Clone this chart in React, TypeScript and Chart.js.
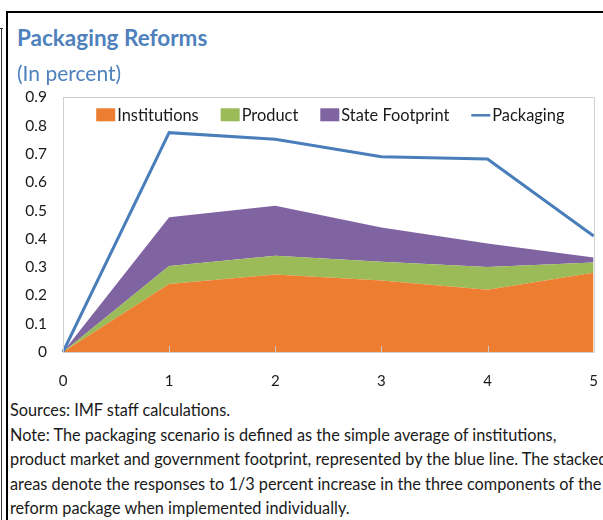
import React, { useEffect, useRef } from "react";
import { Chart, registerables } from "chart.js";

Chart.register(...registerables);

const years = ["0", "1", "2", "3", "4", "5"];
const institutions = [0, 0.24, 0.274, 0.253, 0.22, 0.28];
const product = [0, 0.064, 0.066, 0.066, 0.08, 0.036];
const stateFootprint = [0, 0.172, 0.177, 0.121, 0.083, 0.018];
const packaging = [0, 0.775, 0.752, 0.69, 0.682, 0.41];

const FONT = "Lato, 'Noto Sans', sans-serif";

const frameAndTicks = {
  id: "frameAndTicks",
  afterDatasetsDraw(chart: any) {
    const { ctx, chartArea } = chart;
    const xs = chart.scales.x;
    ctx.save();
    ctx.strokeStyle = "#c8c8c8";
    ctx.lineWidth = 1;
    ctx.beginPath();
    for (let i = 1; i < years.length; i++) {
      const px = Math.round(xs.getPixelForValue(i)) + 0.5;
      ctx.moveTo(px, chartArea.bottom);
      ctx.lineTo(px, chartArea.bottom - 6);
    }
    ctx.stroke();
    ctx.beginPath();
    ctx.strokeStyle = "#d0d0d0";
    ctx.rect(
      Math.round(chartArea.left) + 0.5,
      Math.round(chartArea.top) + 0.5,
      Math.round(chartArea.right - chartArea.left),
      Math.round(chartArea.bottom - chartArea.top)
    );
    ctx.stroke();
    ctx.restore();
  },
  afterDraw(chart: any) {
    // legend inside the plot area, one row, centred
    const { ctx, chartArea } = chart;
    const ds = chart.data.datasets;
    const fontSize = 16.4;
    const boxW = 19;
    const boxH = 13;
    const gapText = 2;
    const spacing = 22;
    ctx.save();
    ctx.font = `${fontSize}px ${FONT}`;
    ctx.textBaseline = "middle";
    const widths = ds.map((d: any) => boxW + gapText + ctx.measureText(d.label).width);
    const total = widths.reduce((a: number, b: number) => a + b, 0) + spacing * (ds.length - 1);
    let x = (chartArea.left + chartArea.right) / 2 - total / 2 + 2;
    const cy = chartArea.top + 18;
    ds.forEach((d: any, i: number) => {
      if (d.fill === false) {
        ctx.strokeStyle = d.borderColor;
        ctx.lineWidth = 2.5;
        ctx.beginPath();
        ctx.moveTo(x, cy);
        ctx.lineTo(x + boxW, cy);
        ctx.stroke();
      } else {
        ctx.fillStyle = d.backgroundColor;
        ctx.fillRect(x, cy - boxH / 2 - 0.5, boxW, boxH);
      }
      ctx.fillStyle = "#1a1a1a";
      ctx.fillText(d.label, x + boxW + gapText, cy);
      x += widths[i] + spacing;
    });
    ctx.restore();
  },
};

export default function App() {
  const ref = useRef<HTMLCanvasElement>(null);

  useEffect(() => {
    if (!ref.current) return;
    const chart = new Chart(ref.current, {
      type: "line",
      data: {
        labels: years,
        datasets: [
          {
            label: "Institutions",
            data: institutions,
            backgroundColor: "#ED7D31",
            borderWidth: 0,
            fill: "origin",
            pointRadius: 0,
            stack: "s",
          },
          {
            label: "Product",
            data: product,
            backgroundColor: "#9BBB59",
            borderWidth: 0,
            fill: "-1",
            pointRadius: 0,
            stack: "s",
          },
          {
            label: "State Footprint",
            data: stateFootprint,
            backgroundColor: "#8064A2",
            borderWidth: 0,
            fill: "-1",
            pointRadius: 0,
            stack: "s",
          },
          {
            label: "Packaging",
            data: packaging,
            borderColor: "#4A7EBB",
            backgroundColor: "#4A7EBB",
            borderWidth: 3,
            fill: false,
            pointRadius: 0,
            stack: "p",
            order: -1,
          },
        ] as any,
      },
      options: {
        animation: false,
        responsive: false,
        maintainAspectRatio: false,
        layout: { padding: 0 },
        plugins: {
          tooltip: { enabled: false },
          legend: { display: false },
        },
        scales: {
          x: {
            offset: false,
            stacked: true,
            grid: { display: false, drawTicks: false },
            border: { display: true, color: "#c8c8c8" },
            ticks: {
              padding: 20,
              color: "#1a1a1a",
              font: { family: FONT, size: 15 },
              maxRotation: 0,
              autoSkip: false,
            },
            afterFit: (s: any) => {
              s.height = 42;
            },
          },
          y: {
            stacked: true,
            min: 0,
            max: 0.9,
            grid: { display: false, drawTicks: false },
            border: { display: true, color: "#c8c8c8" },
            ticks: {
              stepSize: 0.1,
              padding: 16,
              color: "#1a1a1a",
              font: { family: FONT, size: 15.5 },
              callback: (v: any) => String(Math.round(Number(v) * 10) / 10),
            },
            afterFit: (s: any) => {
              s.width = 55;
            },
          },
        },
      },
      plugins: [frameAndTicks],
    });
    return () => chart.destroy();
  }, []);

  const textColor = "#1a1a1a";
  return (
    <div
      style={{
        position: "absolute",
        left: 0,
        top: 0,
        width: 603,
        height: 520,
        overflow: "hidden",
        background: "#fff",
        fontFamily: FONT,
      }}
    >
      <canvas
        ref={ref}
        width={610}
        height={322}
        style={{ position: "absolute", left: 8, top: 72, width: 610, height: 322 }}
      />

      <div style={{ position: "absolute", left: 1, top: 28, width: 1, height: 492, background: "#333" }} />
      <div style={{ position: "absolute", left: 0, top: 28, width: 3, height: 1, background: "#333" }} />
      <div style={{ position: "absolute", left: 6, top: 12, width: 2, height: 508, background: "#000" }} />
      <div style={{ position: "absolute", left: 6, top: 11, width: 597, height: 2, background: "#000" }} />

      <div
        style={{
          position: "absolute",
          left: 17,
          top: 23,
          fontSize: 22.5,
          fontWeight: 700,
          color: "#4F81BD",
          lineHeight: "30px",
          whiteSpace: "nowrap",
        }}
      >
        Packaging Reforms
      </div>
      <div
        style={{
          position: "absolute",
          left: 17,
          top: 59,
          fontSize: 21,
          color: "#4F81BD",
          lineHeight: "28px",
          whiteSpace: "nowrap",
        }}
      >
        (In percent)
      </div>

      <div
        style={{
          position: "absolute",
          left: 10,
          top: 398,
          width: 640,
          fontSize: 16.3,
          lineHeight: "24.6px",
          color: textColor,
          whiteSpace: "nowrap",
        }}
      >
        <div>Sources: IMF staff calculations.</div>
        <div>Note: The packaging scenario is defined as the simple average of institutions,</div>
        <div>product market and government footprint, represented by the blue line. The stacked</div>
        <div>areas denote the responses to 1/3 percent increase in the three components of the</div>
        <div>reform package when implemented individually.</div>
      </div>
    </div>
  );
}
